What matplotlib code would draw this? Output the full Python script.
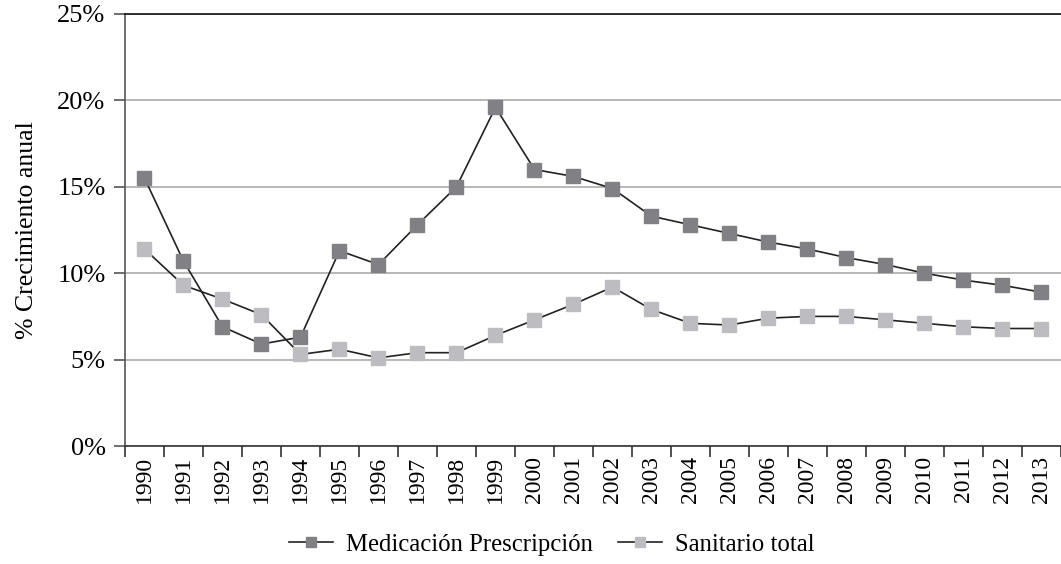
import matplotlib

matplotlib.use("Agg")
import matplotlib.pyplot as plt
from matplotlib.ticker import FixedLocator, FuncFormatter

years = [str(y) for y in range(1990, 2014)]
medicacion = [15.5, 10.7, 6.9, 5.9, 6.3, 11.3, 10.5, 12.8, 15.0, 19.6, 16.0, 15.6,
              14.9, 13.3, 12.8, 12.3, 11.8, 11.4, 10.9, 10.5, 10.0, 9.6, 9.3, 8.9]
sanitario = [11.4, 9.3, 8.5, 7.6, 5.3, 5.6, 5.1, 5.4, 5.4, 6.4, 7.3, 8.2,
             9.2, 7.9, 7.1, 7.0, 7.4, 7.5, 7.5, 7.3, 7.1, 6.9, 6.8, 6.8]
yticks = [0, 5, 10, 15, 20, 25]

plt.rcParams["font.family"] = ["Liberation Serif", "DejaVu Serif"]

fig = plt.figure(figsize=(10.61, 5.64), dpi=100)
ax = fig.add_axes([0.1178, 0.2092, 0.8822, 0.7660])

x = list(range(len(years)))
ax.plot(x, medicacion, color="#222222", linewidth=1.2, marker="s", markersize=10,
        markerfacecolor="#818185", markeredgecolor="#818185",
        label="Medicación Prescripción", zorder=3)
ax.plot(x, sanitario, color="#222222", linewidth=1.2, marker="s", markersize=10,
        markerfacecolor="#bdbdc1", markeredgecolor="#bdbdc1",
        label="Sanitario total", zorder=3)

ax.set_xlim(-0.5, len(years) - 0.5)
ax.set_ylim(0, 25)
ax.set_yticks(yticks)
ax.yaxis.set_major_formatter(FuncFormatter(lambda v, p: f"{v:.0f}%"))
ax.grid(True, axis="y", color="#ababab", linewidth=1.2)
ax.set_axisbelow(True)

ax.xaxis.set_major_locator(FixedLocator([i - 0.5 for i in range(len(years) + 1)]))
ax.xaxis.set_major_formatter(FuncFormatter(lambda v, p: ""))
ax.set_xticks(x, minor=True)
ax.set_xticklabels(years, minor=True, rotation=90)
ax.tick_params(axis="x", which="minor", length=0, labelsize=17, pad=7)
ax.tick_params(axis="x", which="major", length=8, width=1.2, color="#333333")
ax.tick_params(axis="y", length=8, width=1.2, color="#555555", labelsize=19, pad=6)

ax.spines["right"].set_visible(False)
ax.spines["top"].set_color("#111111")
ax.spines["left"].set_color("#555555")
ax.spines["bottom"].set_color("#333333")
for s in ["top", "left", "bottom"]:
    ax.spines[s].set_linewidth(1.2)

ax.set_ylabel("% Crecimiento anual", fontsize=18.5, labelpad=14)

fig.legend(loc="lower center", bbox_to_anchor=(0.52, -0.025), ncol=2, frameon=False,
           fontsize=17.8, handlelength=1.8, handletextpad=0.53, columnspacing=1.0,
           markerscale=0.68)

fig.savefig("out.png", dpi=100)
plt.close(fig)
